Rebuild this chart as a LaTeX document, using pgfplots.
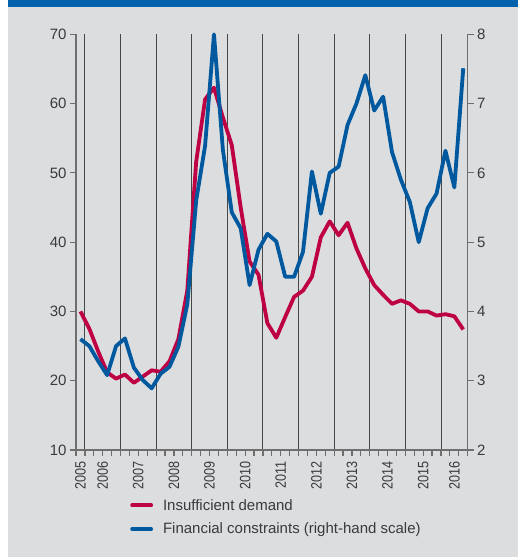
\documentclass[border=0pt]{standalone}
\usepackage{pgfplots}
\pgfplotsset{compat=1.18}
\usepackage{fontspec}
\setmainfont{Liberation Sans}
\newfontfamily\yearfont[FakeStretch=0.84]{Liberation Sans}
\definecolor{panel}{HTML}{DCDDDF}
\definecolor{head}{HTML}{0062AC}
\definecolor{demand}{HTML}{BE0045}
\definecolor{finance}{HTML}{00589F}
\definecolor{txt}{HTML}{3A3A3A}
\definecolor{axisgray}{HTML}{6E6E6E}

\begin{document}
\begin{tikzpicture}[x=1pt,y=1pt]
\fill[white] (0,0) rectangle (518,557);
\fill[panel] (8,0) rectangle (518,557);
\fill[head] (8,549.5) rectangle (518,557);
\useasboundingbox (0,0) rectangle (518,557);

\pgfplotsset{
  base/.style={
    scale only axis, width=391.7pt, height=415.7pt,
    at={(76pt,107pt)}, anchor=south west,
    xmin=-0.5, xmax=43.5,
    axis line style={axisgray, line width=1.5pt},
    tick style={axisgray, line width=1.2pt},
    tick align=outside,
    major tick length=6pt, minor tick length=0pt,
    ticklabel style={font=\fontsize{15}{18}\selectfont, text=txt},
    /pgf/number format/assume math mode=true,
    clip=false,
  },
}

% left scale: insufficient demand
\begin{axis}[base,
  axis y line*=left, axis x line*=bottom,
  ymin=10, ymax=70, ytick={10,20,...,70},
  xtick={-0.5,0.5,...,43.5}, xticklabels={},
  minor xtick={0.5,4.5,...,40.5},
  xminorgrids=true,
  minor x grid style={black!72, line width=0.9pt},
  extra x ticks={0,2.5,6.5,10.5,14.5,18.5,22.5,26.5,30.5,34.5,38.5,42},
  extra x tick labels={2005,2006,2007,2008,2009,2010,2011,2012,2013,2014,2015,2016},
  extra x tick style={major tick length=0pt, xticklabel shift=8pt,
    xticklabel style={rotate=90, anchor=east, font=\yearfont\fontsize{15}{18}\selectfont, text=txt}},
  legend style={at={(0.138,-0.113)}, anchor=north west, draw=none, fill=none,
    inner sep=0pt, row sep=7.5pt, font=\fontsize{15}{18}\selectfont, text=txt,
    nodes={inner sep=2pt}},
  legend cell align=left,
  legend image code/.code={\draw[#1, line cap=round] (2pt,0pt) -- (21pt,0pt); \path (29pt,0pt);},
]
\addplot[demand, line width=3.8pt, line join=round] coordinates {
(0,30) (1,27.5) (2,24.2) (3,21.2) (4,20.3) (5,20.9) (6,19.7) (7,20.6)
(8,21.5) (9,21.3) (10,22.8) (11,26) (12,33) (13,51.6) (14,60.6) (15,62.3)
(16,58) (17,54) (18,45) (19,37.2) (20,35.3) (21,28.3) (22,26.2) (23,29.2)
(24,32.1) (25,33) (26,35) (27,40.7) (28,43) (29,41) (30,42.8) (31,39.1)
(32,36.2) (33,33.8) (34,32.4) (35,31.1) (36,31.6) (37,31.1) (38,30) (39,30)
(40,29.4) (41,29.6) (42,29.3) (43,27.4)
};
\addlegendentry{Insufficient demand}
\addlegendimage{finance, line width=3.8pt}
\addlegendentry{Financial constraints (right-hand scale)}
\end{axis}

% right scale: financial constraints
\begin{axis}[base,
  axis y line*=right, axis x line=none,
  ymin=2, ymax=8, ytick={2,3,...,8},
  xtick=\empty,
]
\addplot[finance, line width=3.8pt, line join=round] coordinates {
(0,3.6) (1,3.5) (2,3.28) (3,3.08) (4,3.5) (5,3.61) (6,3.19) (7,3.01)
(8,2.89) (9,3.1) (10,3.2) (11,3.49) (12,4.1) (13,5.6) (14,6.39) (15,8.0)
(16,6.33) (17,5.43) (18,5.2) (19,4.38) (20,4.89) (21,5.12) (22,5.01) (23,4.5)
(24,4.5) (25,4.86) (26,6.02) (27,5.41) (28,6.0) (29,6.09) (30,6.69) (31,7.0)
(32,7.41) (33,6.9) (34,7.1) (35,6.3) (36,5.9) (37,5.58) (38,5.0) (39,5.49)
(40,5.7) (41,6.32) (42,5.79) (43,7.51)
};
\end{axis}
\end{tikzpicture}
\end{document}
